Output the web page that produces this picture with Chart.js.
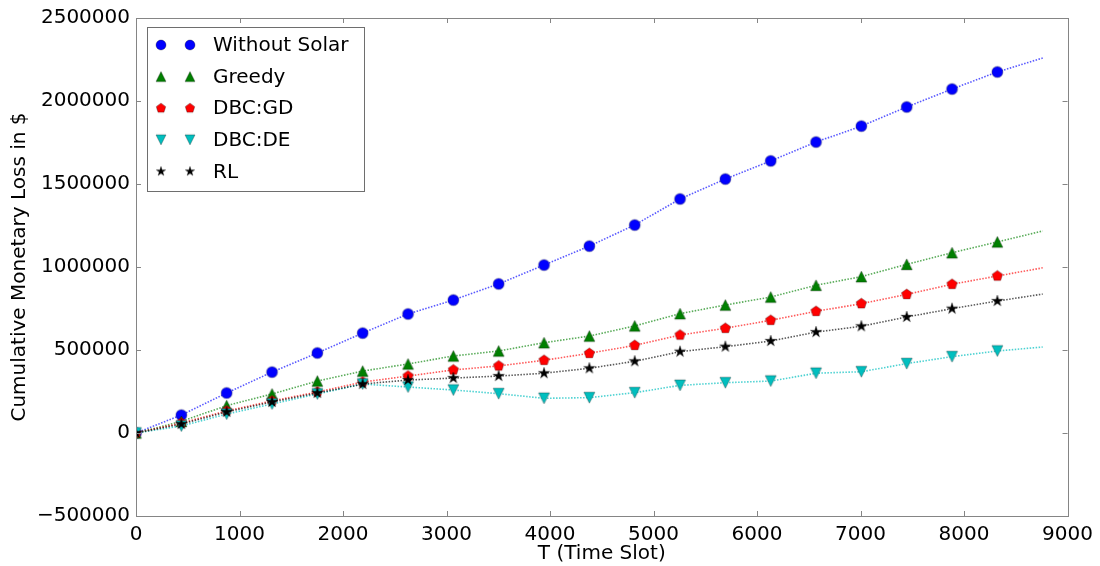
<!DOCTYPE html>
<html><head><meta charset="utf-8">
<script src="https://cdn.jsdelivr.net/npm/chart.js@4"></script>
<style>html,body{margin:0;padding:0;background:#fff}#wrap{width:1100px;height:566px;position:relative}</style>
</head><body><div id="wrap"><canvas id="c"></canvas></div>
<script>
// ---- data ----
const timeSlots = [0,438,876,1314,1752,2190,2628,3066,3504,3942,4380,4818,5256,5694,6132,6570,7008,7446,7884,8322,8760];
const withoutSolar = [0,108000,241000,367000,482000,602000,717000,801000,898000,1012000,1126000,1253000,1410000,1530000,1639000,1753000,1849000,1964000,2072000,2175000,2259000];
const greedy = [0,70000,165000,235000,313000,373000,416000,464000,494000,544000,584000,645000,719000,771000,819000,890000,942000,1016000,1086000,1151000,1217000];
const dbcGD = [0,60000,133000,193000,247000,307000,343000,380000,404000,438000,480000,528000,590000,631000,679000,733000,779000,835000,896000,946000,995000];
const dbcDE = [0,42000,114000,175000,235000,295000,277000,259000,237000,209000,213000,243000,287000,303000,313000,360000,369000,418000,460000,494000,518000];
const rl = [0,54000,127000,187000,241000,295000,319000,331000,343000,360000,390000,432000,490000,520000,554000,608000,643000,699000,749000,795000,837000];
const seriesNames = ['Without Solar','Greedy','DBC:GD','DBC:DE','RL'];
const xTickValues = [0,1000,2000,3000,4000,5000,6000,7000,8000,9000];
const yTickValues = [-500000,0,500000,1000000,1500000,2000000,2500000];

const seriesValues = [withoutSolar, greedy, dbcGD, dbcDE, rl];
const fills = ['#0000ff','#008000','#ff0000','#00bfbf','#000000'];
const lineColors = ['rgba(0,0,255,0.65)','rgba(0,128,0,0.65)','rgba(255,0,0,0.65)','rgba(0,191,191,0.7)','rgba(0,0,0,0.65)'];
const shapes = ['circle','triUp','pentagon','triDown','star'];
const FONT = '"DejaVu Sans", "Liberation Sans", sans-serif';

function makeMarker(shape, size, fill) {
  const pad = 2;
  const dim = Math.ceil(size + pad * 2);
  const c = document.createElement('canvas');
  c.width = dim; c.height = dim;
  const ctx = c.getContext('2d');
  const cx = dim / 2, cy = dim / 2, r = size / 2;
  ctx.beginPath();
  if (shape === 'circle') {
    ctx.arc(cx, cy, r, 0, Math.PI * 2);
  } else if (shape === 'triUp') {
    ctx.moveTo(cx, cy - r); ctx.lineTo(cx + r, cy + r); ctx.lineTo(cx - r, cy + r); ctx.closePath();
  } else if (shape === 'triDown') {
    ctx.moveTo(cx, cy + r); ctx.lineTo(cx + r, cy - r); ctx.lineTo(cx - r, cy - r); ctx.closePath();
  } else if (shape === 'pentagon') {
    for (let i = 0; i < 5; i++) {
      const a = -Math.PI / 2 + i * 2 * Math.PI / 5;
      const px = cx + r * Math.cos(a), py = cy + r * Math.sin(a);
      if (i === 0) ctx.moveTo(px, py); else ctx.lineTo(px, py);
    }
    ctx.closePath();
  } else if (shape === 'star') {
    for (let i = 0; i < 10; i++) {
      const a = -Math.PI / 2 + i * Math.PI / 5;
      const rr = i % 2 === 0 ? r : r * 0.382;
      const px = cx + rr * Math.cos(a), py = cy + rr * Math.sin(a);
      if (i === 0) ctx.moveTo(px, py); else ctx.lineTo(px, py);
    }
    ctx.closePath();
  }
  ctx.fillStyle = fill; ctx.fill();
  ctx.lineWidth = 0.6; ctx.strokeStyle = 'rgba(0,0,0,0.5)'; ctx.stroke();
  return c;
}

const plotSizes = [11, 11, 11, 11, 12];
const legendSizes = [10, 10, 10, 10, 10];
const plotMarkers = shapes.map((s, i) => makeMarker(s, plotSizes[i], fills[i]));
const legendMarkers = shapes.map((s, i) => makeMarker(s, legendSizes[i], fills[i]));

const datasets = seriesValues.map((vals, i) => ({
  label: seriesNames[i],
  data: timeSlots.map((t, k) => ({ x: t, y: vals[k] })),
  borderColor: lineColors[i],
  backgroundColor: fills[i],
  borderWidth: 1.6,
  borderDash: [1.5, 1.5],
  pointStyle: plotMarkers[i],
  pointRadius: ctx => (ctx.dataIndex === timeSlots.length - 1 ? 0 : 6),
  pointHoverRadius: 0,
  tension: 0,
  clip: 0,
  order: 5 - i
}));

const frameAndTicks = {
  id: 'frameAndTicks',
  afterDraw(chart) {
    const { ctx, chartArea: a, scales } = chart;
    ctx.save();
    ctx.strokeStyle = '#858585';
    ctx.lineWidth = 1;
    const L = 5;
    ctx.beginPath();
    xTickValues.forEach(v => {
      const x = Math.round(scales.x.getPixelForValue(v)) + 0.5;
      ctx.moveTo(x, a.bottom); ctx.lineTo(x, a.bottom - L);
      ctx.moveTo(x, a.top); ctx.lineTo(x, a.top + L);
    });
    yTickValues.forEach(v => {
      const y = Math.round(scales.y.getPixelForValue(v)) + 0.5;
      ctx.moveTo(a.left, y); ctx.lineTo(a.left + L, y);
      ctx.moveTo(a.right, y); ctx.lineTo(a.right - L, y);
    });
    ctx.stroke();
    ctx.strokeRect(Math.round(a.left) + 0.5, Math.round(a.top) + 0.5, Math.round(a.right - a.left), Math.round(a.bottom - a.top));

    // legend
    const bx = 147.5, by = 27.5, bw = 217, bh = 164;
    ctx.fillStyle = '#ffffff';
    ctx.fillRect(bx, by, bw, bh);
    ctx.strokeStyle = '#6e6e6e';
    ctx.strokeRect(bx, by, bw, bh);
    ctx.font = '20px ' + FONT;
    ctx.fillStyle = '#000';
    ctx.textBaseline = 'middle';
    ctx.textAlign = 'left';
    seriesNames.forEach((name, i) => {
      const y = 45 + i * 31.6;
      const m = legendMarkers[i];
      [161, 190].forEach(mx => ctx.drawImage(m, mx - m.width / 2, y - m.height / 2));
      ctx.fillText(name, 213, y + 1);
    });
    ctx.restore();
  }
};

const fmt = v => (v < 0 ? '\u2212' + Math.abs(v) : String(v));

new Chart(document.getElementById('c'), {
  type: 'line',
  data: { datasets },
  options: {
    responsive: true,
    maintainAspectRatio: false,
    animation: false,
    layout: { padding: { top: 16, right: 31, left: 0, bottom: 0 } },
    plugins: { legend: { display: false }, tooltip: { enabled: false } },
    scales: {
      x: {
        type: 'linear',
        min: 0, max: 9000,
        afterBuildTicks: s => { s.ticks = xTickValues.map(v => ({ value: v })); },
        afterFit: s => { s.height = 50; },
        grid: { display: false, drawTicks: false },
        border: { display: false },
        ticks: { color: '#000', padding: 7, font: { family: FONT, size: 20 }, callback: v => fmt(v), maxRotation: 0, autoSkip: false },
        title: { display: true, text: 'T (Time Slot)', color: '#000', font: { family: FONT, size: 20 }, padding: { top: 0, bottom: 0 } }
      },
      y: {
        type: 'linear',
        min: -500000, max: 2500000,
        afterBuildTicks: s => { s.ticks = yTickValues.map(v => ({ value: v })); },
        afterFit: s => { s.width = 136; },
        grid: { display: false, drawTicks: false },
        border: { display: false },
        ticks: { color: '#000', padding: 6, font: { family: FONT, size: 20 }, callback: v => fmt(v), autoSkip: false },
        title: { display: true, text: 'Cumulative Monetary Loss in $', color: '#000', font: { family: FONT, size: 20 }, padding: { top: 8, bottom: 0 } }
      }
    }
  },
  plugins: [frameAndTicks]
});
</script>
</body></html>
